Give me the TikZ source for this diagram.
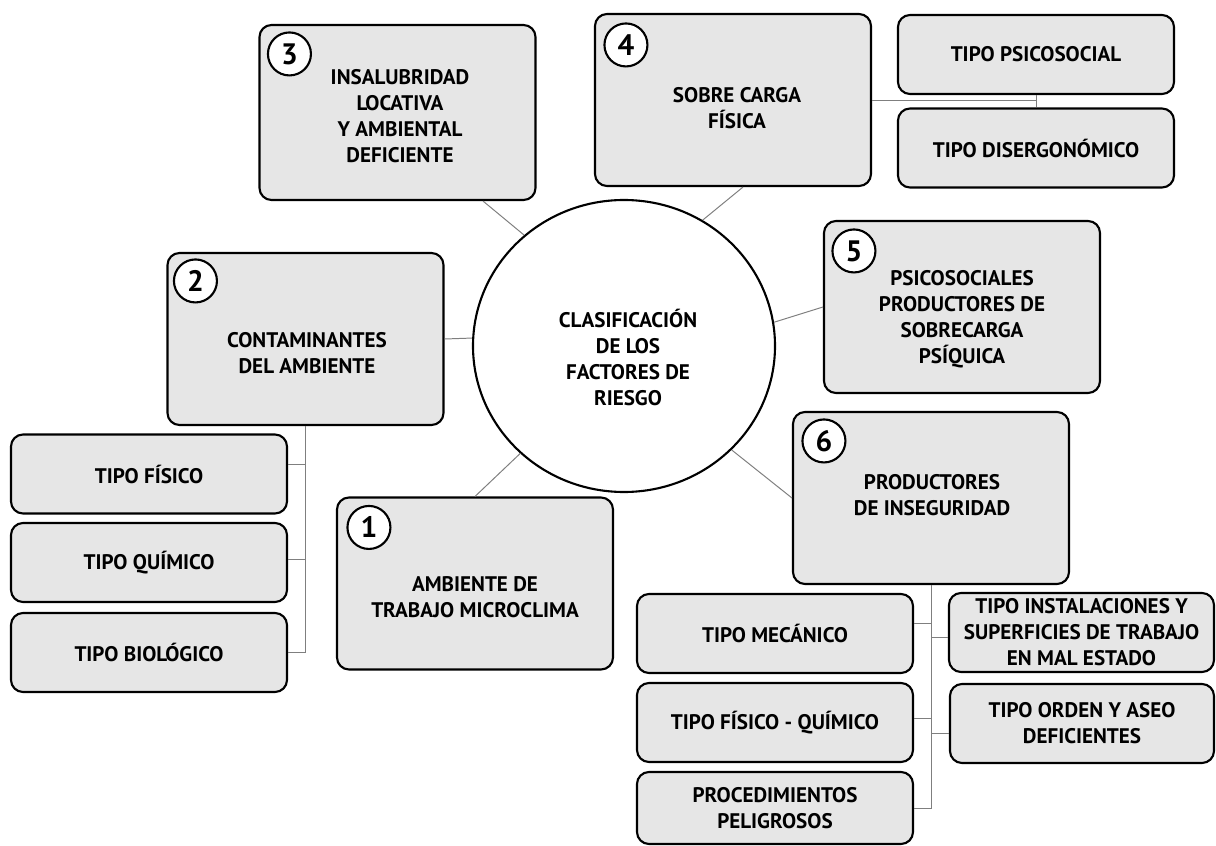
\documentclass[tikz,border=0pt]{standalone}
\usepackage{fontspec}
\setmainfont{PT Sans}
\usetikzlibrary{shapes.geometric,calc}
\definecolor{boxgray}{HTML}{E6E6E6}
\definecolor{linkgray}{HTML}{7F7F7F}
\newcommand{\pxu}{0.025cm}
\newcommand{\txtfont}{\bfseries\fontsize{15}{18.5}\selectfont}
\newcommand{\numfont}{\bfseries\fontsize{21}{21}\selectfont}
\tikzset{
  box/.style={draw=black,line width=1.5pt,fill=boxgray,rounded corners=0.3cm},
  mainbox/.style={box,minimum width=276*\pxu,minimum height=172*\pxu},
  subbox/.style={box,minimum width=276*\pxu,minimum height=79*\pxu,inner sep=1pt,align=center,font=\txtfont},
  txt/.style={align=center,font=\txtfont},
  num/.style={circle,draw=black,line width=1.5pt,fill=white,minimum size=43*\pxu,inner sep=0pt,font=\numfont},
  link/.style={draw=linkgray,line width=0.7pt},
}
\begin{document}
\begin{tikzpicture}[x=0.025cm,y=-0.025cm]
\useasboundingbox (0,0) rectangle (1216,846);
\node[ellipse,draw=black,line width=1.5pt,fill=white,minimum width=302*\pxu,minimum height=292*\pxu] (c) at (624,346) {};
\node[txt] (ct) at (628,357) {CLASIFICACIÓN\\DE LOS\\FACTORES DE\\RIESGO};

\node[mainbox,minimum height=175*\pxu] (b3) at (397.5,112.5) {};
\node[num] (n3) at ($(b3.north west)+(31,30)$) {3};
\node[txt] (t3) at (400,116) {INSALUBRIDAD\\LOCATIVA\\Y AMBIENTAL\\DEFICIENTE};

\node[mainbox] (b4) at (733,100) {};
\node[num] (n4) at ($(b4.north west)+(32,32)$) {4};
\node[txt] (t4) at (737,108.5) {SOBRE CARGA\\FÍSICA};

\node[mainbox] (b2) at (305.5,339) {};
\node[num] (n2) at ($(b2.north west)+(29,29)$) {2};
\node[txt] (t2) at (307,353.5) {CONTAMINANTES\\DEL AMBIENTE};

\node[mainbox] (b1) at (475,583.5) {};
\node[num] (n1) at ($(b1.north west)+(33,31)$) {1};
\node[txt] (t1) at (475,597.5) {AMBIENTE DE\\TRABAJO MICROCLIMA};

\node[mainbox] (b5) at (962,307) {};
\node[num] (n5) at ($(b5.north west)+(31,31)$) {5};
\node[txt] (t5) at (962,319) {PSICOSOCIALES\\PRODUCTORES DE\\SOBRECARGA\\PSÍQUICA};

\node[mainbox] (b6) at (931,498) {};
\node[num] (n6) at ($(b6.north west)+(32,30)$) {6};
\node[txt] (t6) at (932,495) {PRODUCTORES\\DE INSEGURIDAD};

\draw[link] (c.132) -- ([xshift=85.5*\pxu]b3.south);
\draw[link] (c.58) -- ([xshift=10*\pxu]b4.south);
\draw[link] (c.177) -- (b2.east);
\draw[link] (c.-134) -- (b1.north);
\draw[link] (c.9) -- (b5.west);
\draw[link] (c.-44) -- (b6.west);

\node[subbox] (f1) at (149,474) {TIPO FÍSICO};
\node[subbox] (f2) at (149,562.5) {TIPO QUÍMICO};
\node[subbox] (f3) at (149,652.5) {TIPO BIOLÓGICO};
\coordinate (f1b) at ([yshift=10*\pxu]f1.east);
\coordinate (f2b) at ([yshift=3.5*\pxu]f2.east);
\draw[link] (f3.east) -| (b2.south);
\draw[link] (f1b) -- (f1b -| b2.south);
\draw[link] (f2b) -- (f2b -| b2.south);

\node[subbox] (p1) at (1036,54.5) {TIPO PSICOSOCIAL};
\node[subbox] (p2) at (1036,148) {TIPO DISERGONÓMICO};
\draw[link] (b4.east) -- (b4.east -| p1.south);
\draw[link] (p1.south) -- (p2.north);

\node[subbox] (m1) at (775,633.5) {TIPO MECÁNICO};
\node[subbox] (m2) at (775,722.5) {TIPO FÍSICO - QUÍMICO};
\node[subbox,minimum height=72*\pxu] (m3) at (775,808) {PROCEDIMIENTOS\\PELIGROSOS};
\node[subbox,minimum width=265*\pxu] (r1) at (1081.5,632.5) {TIPO INSTALACIONES Y\\SUPERFICIES DE TRABAJO\\EN MAL ESTADO};
\node[subbox,minimum width=264*\pxu] (r2) at (1082,723.5) {TIPO ORDEN Y ASEO\\DEFICIENTES};
\coordinate (m1b) at ([yshift=10*\pxu]m1.east);
\coordinate (m2b) at ([yshift=4.5*\pxu]m2.east);
\coordinate (r1b) at ([yshift=-4.5*\pxu]r1.west);
\coordinate (r2b) at ([yshift=-9.5*\pxu]r2.west);
\draw[link] (m3.east) -| (b6.south);
\draw[link] (m1b) -- (m1b -| b6.south);
\draw[link] (m2b) -- (m2b -| b6.south);
\draw[link] (r1b) -- (r1b -| b6.south);
\draw[link] (r2b) -- (r2b -| b6.south);
\end{tikzpicture}
\end{document}
